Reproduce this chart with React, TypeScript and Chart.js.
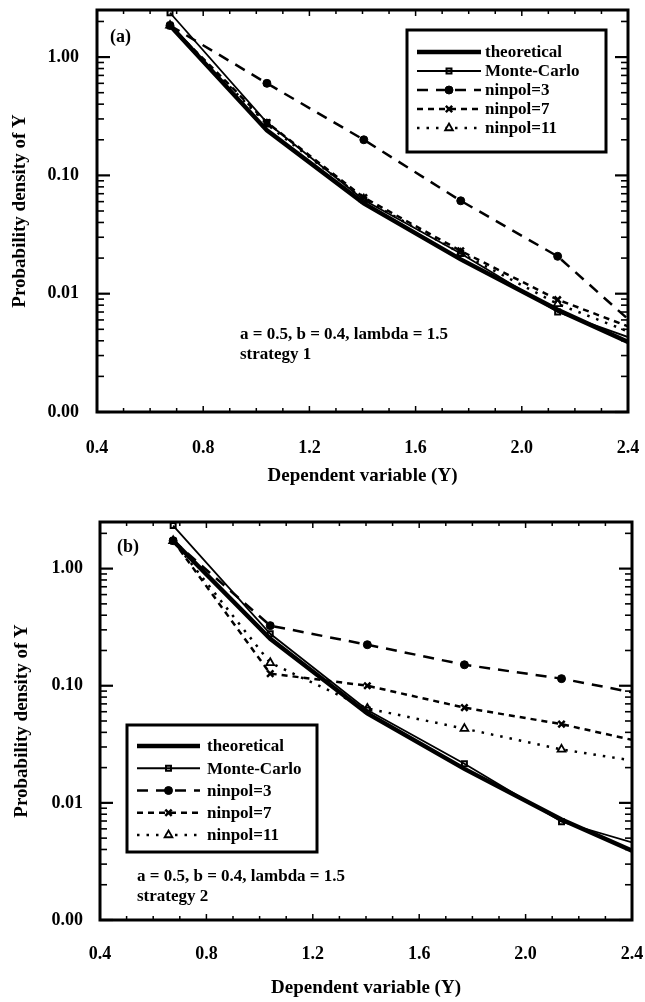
import React, { useEffect, useRef } from 'react';
import { Chart, registerables } from 'chart.js';
import { drawPoint } from 'chart.js/helpers';

Chart.register(...registerables);

// ---------------- data ----------------
const xValues = [0.675, 1.04, 1.405, 1.77, 2.135, 2.4];
const seriesNames = ['theoretical', 'Monte-Carlo', 'ninpol=3', 'ninpol=7', 'ninpol=11'];

// panel (a) – strategy 1
const theoreticalA = [1.85, 0.24, 0.058, 0.0195, 0.0073, 0.0039];
const monteCarloA = [2.37, 0.28, 0.062, 0.0219, 0.007, 0.0043];
const ninpol3A = [1.85, 0.6, 0.2, 0.061, 0.0207, 0.0061];
const ninpol7A = [1.85, 0.28, 0.065, 0.023, 0.0089, 0.0053];
const ninpol11A = [1.85, 0.27, 0.063, 0.022, 0.0082, 0.0048];

// panel (b) – strategy 2
const theoreticalB = [1.73, 0.252, 0.058, 0.0195, 0.0072, 0.0039];
const monteCarloB = [2.33, 0.278, 0.062, 0.0216, 0.0069, 0.0046];
const ninpol3B = [1.73, 0.326, 0.224, 0.151, 0.115, 0.088];
const ninpol7B = [1.73, 0.127, 0.1, 0.065, 0.047, 0.0345];
const ninpol11B = [1.73, 0.157, 0.064, 0.043, 0.0286, 0.023];

const xTickValues = [0.4, 0.8, 1.2, 1.6, 2.0, 2.4];
const xTickLabels = ['0.4', '0.8', '1.2', '1.6', '2.0', '2.4'];
const yTickValues = [0.001, 0.01, 0.1, 1];
const yTickLabels = ['0.00', '0.01', '0.10', '1.00'];

const xMin = 0.4;
const xMax = 2.4;
const yMin = 0.001;
const yMax = 2.5;

const paramText = 'a = 0.5, b = 0.4, lambda = 1.5';

// ---------------- styles ----------------
const SERIF = '"Liberation Serif", "Times New Roman", serif';

const seriesStyles = [
  { borderWidth: 4.5, borderDash: [] as number[], pointStyle: 'circle', radius: 0, bg: '#000', pbw: 0 },
  { borderWidth: 1.8, borderDash: [] as number[], pointStyle: 'rect', radius: 3.5, bg: 'rgba(0,0,0,0)', pbw: 2 },
  { borderWidth: 2.5, borderDash: [11, 8], pointStyle: 'circle', radius: 4, bg: '#000', pbw: 1 },
  { borderWidth: 2.5, borderDash: [6, 5], pointStyle: 'crossRot', radius: 4.5, bg: '#000', pbw: 2.5 },
  { borderWidth: 2.5, borderDash: [2.5, 7], pointStyle: 'triangle', radius: 4.5, bg: '#fff', pbw: 1.8 },
];

function makeDatasets(series: number[][]) {
  const last = xValues.length - 1;
  return series.map((vals, i) => {
    const s = seriesStyles[i];
    return {
      label: seriesNames[i],
      data: vals.map((v, j) => ({ x: xValues[j], y: v })),
      borderColor: '#000',
      backgroundColor: s.bg,
      borderWidth: s.borderWidth,
      borderDash: s.borderDash,
      pointStyle: s.pointStyle,
      pointRadius: (c: any) => (c.dataIndex === last ? 0 : s.radius),
      pointBorderWidth: s.pbw,
      pointBackgroundColor: s.bg,
      pointBorderColor: '#000',
      tension: 0,
      fill: false,
    };
  });
}

// ---------------- plugins ----------------
const frameTicksPlugin = {
  id: 'frameTicks',
  afterDatasetsDraw(chart: any) {
    const { ctx, chartArea: a, scales } = chart;
    const xs = scales.x;
    const ys = scales.y;
    const line = (x1: number, y1: number, x2: number, y2: number) => {
      ctx.beginPath();
      ctx.moveTo(x1, y1);
      ctx.lineTo(x2, y2);
      ctx.stroke();
    };
    ctx.save();
    ctx.strokeStyle = '#000';
    ctx.setLineDash([]);
    for (let i = 4; i <= 24; i++) {
      const px = xs.getPixelForValue(i / 10);
      const len = i % 4 === 0 ? 6 : 4;
      ctx.lineWidth = 1.5;
      line(px, a.bottom, px, a.bottom - len);
      line(px, a.top, px, a.top + len);
    }
    for (let e = -3; e <= 0; e++) {
      for (let k = 1; k <= 9; k++) {
        const v = k * Math.pow(10, e);
        if (v > ys.max) break;
        const py = ys.getPixelForValue(v);
        const len = k === 1 ? 13 : 7;
        ctx.lineWidth = k === 1 ? 2.2 : 1.6;
        line(a.left, py, a.left + len, py);
        line(a.right, py, a.right - len, py);
      }
    }
    ctx.lineWidth = 3;
    ctx.strokeRect(a.left, a.top, a.right - a.left, a.bottom - a.top);
    ctx.restore();
  },
};

const boxLegendPlugin = {
  id: 'boxLegend',
  afterDraw(chart: any, _args: any, opts: any) {
    const { ctx } = chart;
    ctx.save();
    ctx.fillStyle = '#fff';
    ctx.fillRect(opts.x, opts.y, opts.w, opts.h);
    ctx.strokeStyle = '#000';
    ctx.lineWidth = 3;
    ctx.setLineDash([]);
    ctx.strokeRect(opts.x, opts.y, opts.w, opts.h);
    ctx.font = opts.font;
    ctx.textBaseline = 'middle';
    ctx.textAlign = 'left';
    chart.data.datasets.forEach((ds: any, i: number) => {
      const y = opts.rowY + i * opts.rowGap;
      const x0 = opts.x + opts.sampleStart;
      const x1 = x0 + opts.sampleLen;
      ctx.strokeStyle = '#000';
      ctx.lineWidth = ds.borderWidth;
      ctx.setLineDash(ds.borderDash || []);
      ctx.beginPath();
      ctx.moveTo(x0, y);
      ctx.lineTo(x1, y);
      ctx.stroke();
      ctx.setLineDash([]);
      const s = seriesStyles[i];
      if (s.radius > 0) {
        ctx.fillStyle = s.bg;
        ctx.strokeStyle = '#000';
        ctx.lineWidth = s.pbw;
        drawPoint(ctx, { pointStyle: s.pointStyle, rotation: 0, radius: s.radius, borderWidth: s.pbw } as any, (x0 + x1) / 2, y);
      }
      ctx.fillStyle = '#000';
      ctx.fillText(ds.label, x1 + opts.textGap, y + 1);
    });
    ctx.restore();
  },
};

const notesPlugin = {
  id: 'notes',
  afterDraw(chart: any, _args: any, opts: any) {
    const { ctx } = chart;
    ctx.save();
    ctx.fillStyle = '#000';
    ctx.textBaseline = 'middle';
    ctx.textAlign = 'left';
    opts.items.forEach((it: any) => {
      ctx.font = it.font;
      ctx.fillText(it.text, it.x, it.y);
    });
    ctx.restore();
  },
};

const zeroPad = (s: any) => {
  s.paddingTop = 0;
  s.paddingBottom = 0;
  s.paddingLeft = 0;
  s.paddingRight = 0;
};

// ---------------- config ----------------
type PanelCfg = {
  height: number;
  series: number[][];
  area: { left: number; right: number; top: number; bottom: number };
  yTitlePad: number;
  xTitlePad: number;
  xTickPad: number;
  yTickPad: number;
  legend: any;
  notes: any[];
};

function buildConfig(p: PanelCfg): any {
  const W = 645;
  return {
    type: 'line',
    data: { datasets: makeDatasets(p.series) },
    plugins: [frameTicksPlugin, boxLegendPlugin, notesPlugin],
    options: {
      responsive: false,
      animation: false,
      events: [],
      layout: {
        padding: { left: 0, right: W - p.area.right, top: p.area.top, bottom: 0 },
      },
      plugins: {
        legend: { display: false },
        tooltip: { enabled: false },
        boxLegend: p.legend,
        notes: { items: p.notes },
      },
      scales: {
        x: {
          type: 'linear',
          min: xMin,
          max: xMax,
          afterFit: (s: any) => {
            s.height = p.height - p.area.bottom;
            zeroPad(s);
          },
          afterBuildTicks: (s: any) => {
            s.ticks = xTickValues.map((v) => ({ value: v }));
          },
          grid: { display: false, drawTicks: false },
          border: { display: false },
          ticks: {
            autoSkip: false,
            maxRotation: 0,
            padding: p.xTickPad,
            color: '#000',
            font: { family: SERIF, size: 18, weight: 'bold' },
            callback: (v: number) => {
              const i = xTickValues.findIndex((t) => Math.abs(t - v) < 1e-6);
              return i >= 0 ? xTickLabels[i] : '';
            },
          },
          title: {
            display: true,
            text: 'Dependent variable (Y)',
            color: '#000',
            font: { family: SERIF, size: 19, weight: 'bold' },
            padding: { top: 0, bottom: p.xTitlePad },
          },
        },
        y: {
          type: 'logarithmic',
          min: yMin,
          max: yMax,
          afterFit: (s: any) => {
            s.width = p.area.left;
            zeroPad(s);
          },
          afterBuildTicks: (s: any) => {
            s.ticks = yTickValues.map((v) => ({ value: v }));
          },
          grid: { display: false, drawTicks: false },
          border: { display: false },
          ticks: {
            autoSkip: false,
            padding: p.yTickPad,
            color: '#000',
            font: { family: SERIF, size: 18, weight: 'bold' },
            callback: (v: number) => {
              const i = yTickValues.findIndex((t) => Math.abs(Math.log10(t) - Math.log10(v)) < 1e-6);
              return i >= 0 ? yTickLabels[i] : '';
            },
          },
          title: {
            display: true,
            text: 'Probability density of Y',
            color: '#000',
            font: { family: SERIF, size: 19, weight: 'bold' },
            padding: { top: p.yTitlePad, bottom: 0 },
          },
        },
      },
    },
  };
}

const LEGEND_FONT = `bold 17px ${SERIF}`;
const NOTE_FONT = `bold 17px ${SERIF}`;

const panelA: PanelCfg = {
  height: 500,
  series: [theoreticalA, monteCarloA, ninpol3A, ninpol7A, ninpol11A],
  area: { left: 97, right: 628, top: 10, bottom: 412 },
  yTitlePad: 9,
  xTitlePad: 13,
  xTickPad: 26,
  yTickPad: 18,
  legend: { x: 407, y: 30, w: 199, h: 122, rowY: 52, rowGap: 19, sampleStart: 10, sampleLen: 64, textGap: 4, font: LEGEND_FONT },
  notes: [
    { text: '(a)', x: 110, y: 37, font: `bold 18px ${SERIF}` },
    { text: paramText, x: 240, y: 335, font: NOTE_FONT },
    { text: 'strategy 1', x: 240, y: 355, font: NOTE_FONT },
  ],
};

const panelB: PanelCfg = {
  height: 502,
  series: [theoreticalB, monteCarloB, ninpol3B, ninpol7B, ninpol11B],
  area: { left: 100, right: 632, top: 22, bottom: 420 },
  yTitlePad: 11,
  xTitlePad: 3,
  xTickPad: 24,
  yTickPad: 17,
  legend: { x: 127, y: 225, w: 190, h: 127, rowY: 246, rowGap: 22.25, sampleStart: 10, sampleLen: 63, textGap: 7, font: LEGEND_FONT },
  notes: [
    { text: '(b)', x: 117, y: 47, font: `bold 18px ${SERIF}` },
    { text: paramText, x: 137, y: 377, font: NOTE_FONT },
    { text: 'strategy 2', x: 137, y: 397, font: NOTE_FONT },
  ],
};

function Panel({ cfg }: { cfg: PanelCfg }) {
  const ref = useRef<HTMLCanvasElement>(null);
  useEffect(() => {
    if (!ref.current) return;
    const chart = new Chart(ref.current, buildConfig(cfg));
    return () => chart.destroy();
  }, [cfg]);
  return (
    <canvas
      ref={ref}
      width={645}
      height={cfg.height}
      style={{ display: 'block', width: 645, height: cfg.height }}
    />
  );
}

export default function App() {
  return (
    <div style={{ position: 'absolute', left: 0, top: 0, width: 645, height: 1002, background: '#fff' }}>
      <Panel cfg={panelA} />
      <Panel cfg={panelB} />
    </div>
  );
}
